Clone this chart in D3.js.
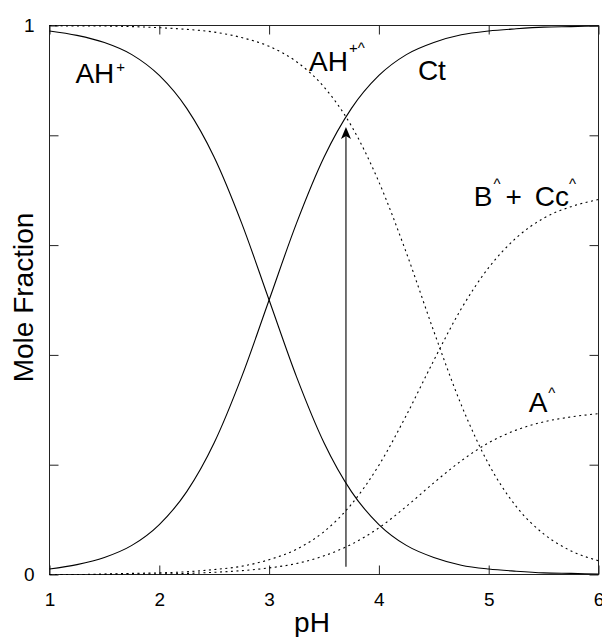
<!DOCTYPE html>
<html>
<head>
<meta charset="utf-8">
<script src="https://cdn.jsdelivr.net/npm/d3@7"></script>
<style>
body { margin: 0; background: #fff; }
text { font-family: "Liberation Sans", Arial, Helvetica, sans-serif; fill: #000; }
</style>
</head>
<body>
<div id="chart"></div>
<script>
// values
var phValues  = [1, 1.25, 1.5, 1.75, 2, 2.25, 2.5, 2.75, 3, 3.25, 3.5, 3.75, 4, 4.25, 4.5, 4.75, 5, 5.25, 5.5, 5.75, 6];
var ahPlus    = [0.990, 0.982, 0.969, 0.947, 0.909, 0.849, 0.760, 0.640, 0.500, 0.360, 0.240, 0.151, 0.091, 0.053, 0.031, 0.017, 0.010, 0.006, 0.003, 0.002, 0.001];
var ct        = [0.010, 0.018, 0.031, 0.053, 0.091, 0.151, 0.240, 0.360, 0.500, 0.640, 0.760, 0.849, 0.909, 0.947, 0.969, 0.983, 0.990, 0.994, 0.997, 0.998, 0.999];
var ahPlusHat = [1.000, 0.999, 0.999, 0.998, 0.996, 0.993, 0.988, 0.978, 0.962, 0.934, 0.888, 0.817, 0.715, 0.586, 0.443, 0.309, 0.201, 0.124, 0.074, 0.043, 0.025];
var bCcHat    = [0.000, 0.000, 0.001, 0.002, 0.003, 0.005, 0.009, 0.015, 0.027, 0.046, 0.078, 0.128, 0.199, 0.290, 0.390, 0.484, 0.559, 0.613, 0.649, 0.670, 0.683];
var aHat      = [0.000, 0.000, 0.000, 0.001, 0.001, 0.002, 0.004, 0.007, 0.012, 0.020, 0.034, 0.055, 0.085, 0.124, 0.167, 0.207, 0.240, 0.263, 0.278, 0.287, 0.293];

var xTicks = [1, 2, 3, 4, 5, 6];
var yTicks = [0, 0.2, 0.4, 0.6, 0.8, 1];
var yTickLabels = ["0", "", "", "", "", "1"];

var arrowPH = 3.7, arrowFrom = 0.014, arrowTo = 0.815;

var width = 602, height = 637;
var margin = {top: 25.5, right: 3.5, bottom: 62.5, left: 49.5};
var plotW = width - margin.left - margin.right,
    plotH = height - margin.top - margin.bottom;

var svg = d3.select("#chart")
  .append("svg")
    .attr("width", width)
    .attr("height", height)
  .append("g")
    .attr("transform", "translate(" + margin.left + "," + margin.top + ")");

var x = d3.scaleLinear().domain([1, 6]).range([0, plotW]);
var y = d3.scaleLinear().domain([0, 1]).range([plotH, 0]);

// axes with inward ticks on all four sides
function styleAxis(g) {
  g.select(".domain").remove();
  g.attr("font-family", null).attr("font-size", null);
  g.selectAll(".tick line").attr("stroke", "#222");
  g.selectAll(".tick text").style("font-size", "19px").attr("fill", "#000");
}
svg.append("g")
  .attr("transform", "translate(0," + plotH + ")")
  .call(d3.axisBottom(x).tickValues(xTicks).tickFormat(d3.format("d")).tickSize(-9).tickPadding(18))
  .call(styleAxis);
svg.append("g")
  .call(d3.axisTop(x).tickValues(xTicks).tickFormat("").tickSize(-9))
  .call(styleAxis);
svg.append("g")
  .call(d3.axisLeft(y).tickValues(yTicks).tickFormat(function(d, i) { return yTickLabels[i]; }).tickSize(-9).tickPadding(15))
  .call(styleAxis);
svg.append("g")
  .attr("transform", "translate(" + plotW + ",0)")
  .call(d3.axisRight(y).tickValues(yTicks).tickFormat("").tickSize(-9))
  .call(styleAxis);

// frame
svg.append("rect")
  .attr("width", plotW)
  .attr("height", plotH)
  .attr("fill", "none")
  .attr("stroke", "#222")
  .attr("stroke-width", 1);

// curves
var series = [
  {name: "AH+",   values: ahPlus,    dash: null},
  {name: "Ct",    values: ct,        dash: null},
  {name: "AH+^",  values: ahPlusHat, dash: "2,3.5"},
  {name: "B^+Cc^",values: bCcHat,    dash: "2,3.5"},
  {name: "A^",    values: aHat,      dash: "2,3.5"}
];

var line = d3.line()
  .x(function(d) { return x(d[0]); })
  .y(function(d) { return y(d[1]); })
  .curve(d3.curveMonotoneX);

svg.append("g")
  .selectAll("path")
  .data(series)
  .enter()
  .append("path")
    .attr("fill", "none")
    .attr("stroke", "#000")
    .attr("stroke-width", 1.1)
    .attr("stroke-dasharray", function(d) { return d.dash; })
    .attr("d", function(d) { return line(phValues.map(function(p, i) { return [p, d.values[i]]; })); });

// arrow
var ax = x(arrowPH), ay = y(arrowTo);
svg.append("line")
  .attr("x1", ax).attr("x2", ax)
  .attr("y1", y(arrowFrom)).attr("y2", ay + 8)
  .attr("stroke", "#000")
  .attr("stroke-width", 1.1);
svg.append("path")
  .attr("d", "M" + ax + "," + ay + "L" + (ax - 5) + "," + (ay + 12) + "L" + ax + "," + (ay + 9) + "L" + (ax + 5) + "," + (ay + 12) + "Z")
  .attr("fill", "#000");

// curve labels
var big = 28, small = 15;
function label(ph, val) {
  return svg.append("text")
    .attr("x", x(ph)).attr("y", y(val))
    .style("font-size", big + "px");
}
var t = label(1.236, 0.895);
t.append("tspan").text("AH");
t.append("tspan").attr("dx", 2).attr("dy", -11).style("font-size", small + "px").text("+");

t = label(3.364, 0.917);
t.append("tspan").text("AH");
t.append("tspan").attr("dx", 1).attr("dy", -18).style("font-size", small + "px").text("+^");

label(4.355, 0.901).text("Ct");

t = label(4.864, 0.671);
t.append("tspan").text("B");
t.append("tspan").attr("dx", 1).attr("dy", -17).style("font-size", small + "px").text("^");
t.append("tspan").attr("dx", 5).attr("dy", 17).text("+");
t.append("tspan").attr("dx", 13).text("Cc");
t.append("tspan").attr("dx", 0).attr("dy", -17).style("font-size", small + "px").text("^");

t = label(5.364, 0.296);
t.append("tspan").text("A");
t.append("tspan").attr("dx", 1).attr("dy", -14).style("font-size", small + "px").text("^");

// axis titles
svg.append("text")
  .attr("x", 312 - margin.left)
  .attr("y", 632 - margin.top)
  .attr("text-anchor", "middle")
  .style("font-size", big + "px")
  .text("pH");

svg.append("text")
  .attr("transform", "translate(" + (33 - margin.left) + "," + (297.5 - margin.top) + ") rotate(-90)")
  .attr("text-anchor", "middle")
  .style("font-size", big + "px")
  .text("Mole Fraction");
</script>
</body>
</html>
